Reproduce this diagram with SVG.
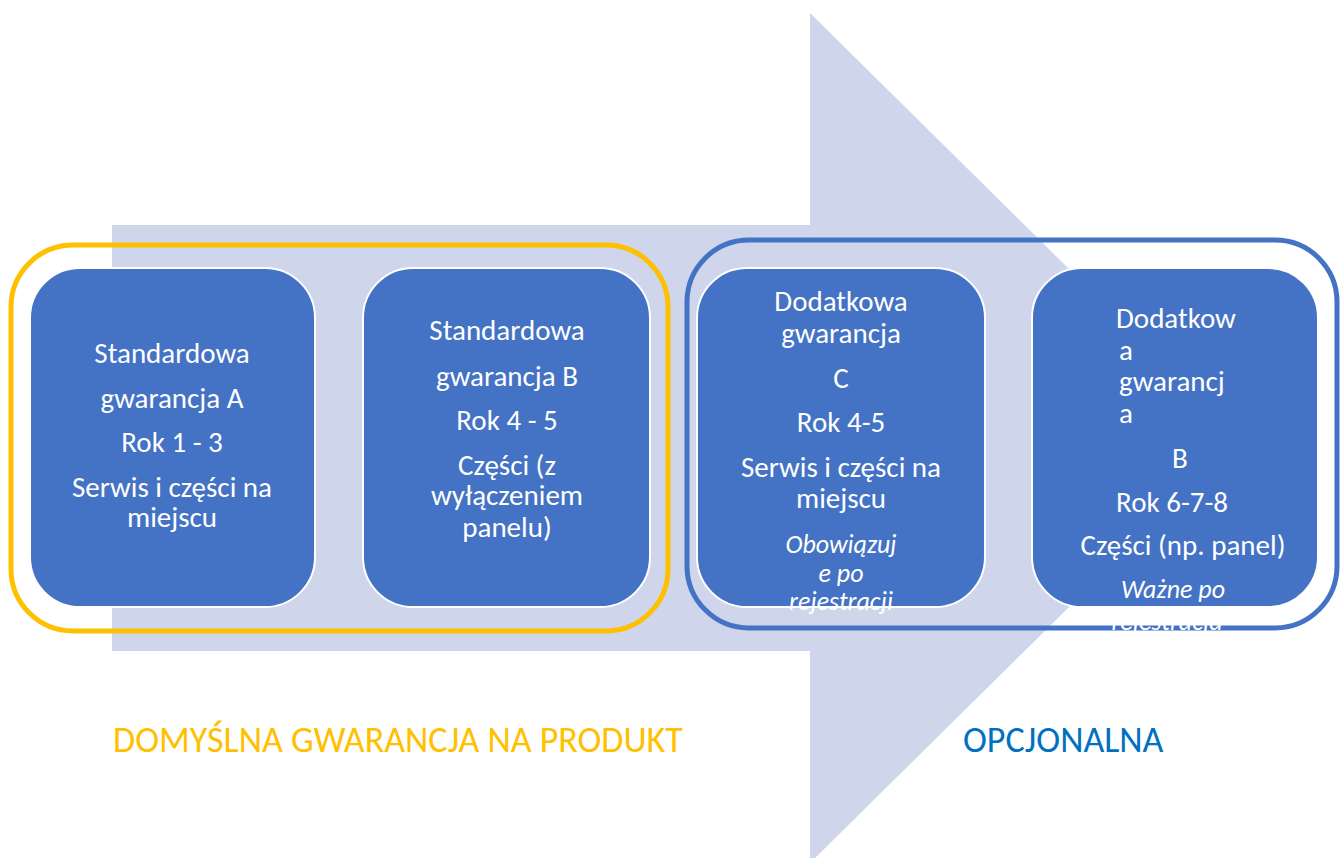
<svg xmlns="http://www.w3.org/2000/svg" width="1340" height="858" viewBox="0 0 1340 858">
<style>
.bx{fill:#4472C4;stroke:#FFFFFF;stroke-width:2}
.t{font-family:Carlito,Lato,"Liberation Sans",sans-serif;font-size:29px;fill:#FFFFFF;text-anchor:middle}
.tl{text-anchor:start}
.i{font-style:italic;font-size:26px}
.lab{font-family:Carlito,Lato,"Liberation Sans",sans-serif;font-size:36px}
</style>
<rect width="1340" height="858" fill="#FFFFFF"/>
<path id="arrow" d="M112 225 H810 V13 L1240 438 L810 863 V651 H112 Z" fill="#CFD5EA"/>
<g id="group-default">
<rect x="11" y="245" width="657" height="386" rx="62" fill="none" stroke="#FFC000" stroke-width="5"/>
</g>
<g id="group-optional">
<rect x="687" y="240" width="650" height="388" rx="62" fill="none" stroke="#4472C4" stroke-width="5"/>
</g>
<g id="connectors"></g>
<g id="box-a">
<rect class="bx" x="30" y="268" width="285" height="339" rx="50"/>
<text class="t" x="172" y="363">Standardowa</text>
<text class="t" x="172" y="408">gwarancja A</text>
<text class="t" x="172" y="452">Rok 1 - 3</text>
<text class="t" x="172" y="497">Serwis i części na</text>
<text class="t" x="172" y="527">miejscu</text>
</g>
<g id="box-b">
<rect class="bx" x="363" y="268" width="287" height="339" rx="50"/>
<text class="t" x="507" y="340">Standardowa</text>
<text class="t" x="507" y="386">gwarancja B</text>
<text class="t" x="507" y="430">Rok 4 - 5</text>
<text class="t" x="507" y="475">Części (z</text>
<text class="t" x="507" y="505">wyłączeniem</text>
<text class="t" x="507" y="537">panelu)</text>
</g>
<g id="box-c">
<rect class="bx" x="697" y="268" width="288" height="339" rx="50"/>
<text class="t" x="841" y="311">Dodatkowa</text>
<text class="t" x="841" y="343">gwarancja</text>
<text class="t" x="841" y="388">C</text>
<text class="t" x="841" y="432">Rok 4-5</text>
<text class="t" x="841" y="477">Serwis i części na</text>
<text class="t" x="841" y="508">miejscu</text>
<text class="t i" x="841" y="553">Obowiązuj</text>
<text class="t i" x="841" y="582">e po</text>
<text class="t i" x="841" y="610">rejestracji</text>
</g>
<g id="box-d">
<rect class="bx" x="1032" y="268" width="286" height="339" rx="50"/>
<text class="t tl" x="1116" y="328">Dodatkow</text>
<text class="t tl" x="1119" y="360">a</text>
<text class="t tl" x="1119" y="391">gwarancj</text>
<text class="t tl" x="1119" y="423">a</text>
<text class="t" x="1180" y="468">B</text>
<text class="t tl" x="1116" y="512">Rok 6-7-8</text>
<text class="t" x="1183" y="555">Części (np. panel)</text>
<text class="t i" x="1173" y="598">Ważne po</text>
<text class="t i" x="1167" y="630">rejestracja</text>
</g>
<g id="labels">
<text class="lab" x="113" y="752" fill="#FFC000">DOMYŚLNA GWARANCJA NA PRODUKT</text>
<text class="lab" x="963" y="752" fill="#0070C0">OPCJONALNA</text>
</g>
</svg>
